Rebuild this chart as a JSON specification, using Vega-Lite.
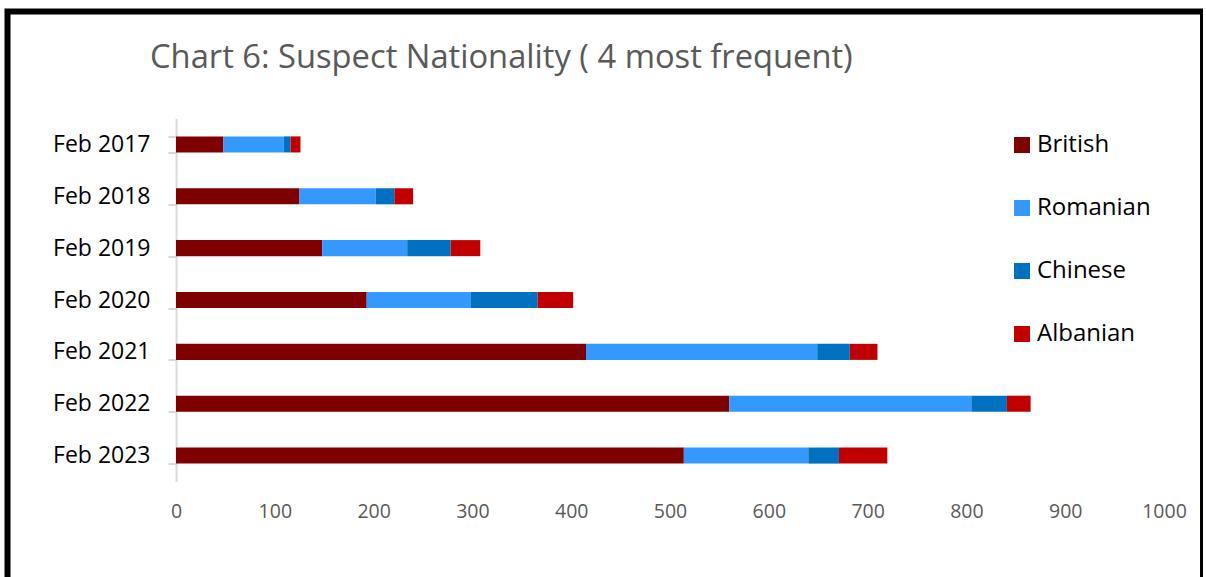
{
  "$schema": "https://vega.github.io/schema/vega-lite/v6.json",
  "autosize": "none",
  "padding": {"left": 7.5, "top": 11.5, "right": 0, "bottom": 0},
  "width": 1195.5,
  "height": 575,
  "background": "#ffffff",
  "title": {
    "text": "Chart 6: Suspect Nationality ( 4 most frequent)",
    "anchor": "start",
    "frame": "group",
    "orient": "top",
    "offset": 0,
    "baseline": "alphabetic",
    "dx": 142.5,
    "dy": 100.5,
    "font": "Open Sans",
    "fontSize": 32.7,
    "fontWeight": "normal",
    "color": "#595959"
  },
  "data": {
    "values": [
      {"month": "Feb 2017", "nationality": "British", "rank": 1, "suspects": 48},
      {"month": "Feb 2017", "nationality": "Romanian", "rank": 2, "suspects": 61},
      {"month": "Feb 2017", "nationality": "Chinese", "rank": 3, "suspects": 7},
      {"month": "Feb 2017", "nationality": "Albanian", "rank": 4, "suspects": 10},
      {"month": "Feb 2018", "nationality": "British", "rank": 1, "suspects": 125},
      {"month": "Feb 2018", "nationality": "Romanian", "rank": 2, "suspects": 77},
      {"month": "Feb 2018", "nationality": "Chinese", "rank": 3, "suspects": 19},
      {"month": "Feb 2018", "nationality": "Albanian", "rank": 4, "suspects": 19},
      {"month": "Feb 2019", "nationality": "British", "rank": 1, "suspects": 148},
      {"month": "Feb 2019", "nationality": "Romanian", "rank": 2, "suspects": 86},
      {"month": "Feb 2019", "nationality": "Chinese", "rank": 3, "suspects": 44},
      {"month": "Feb 2019", "nationality": "Albanian", "rank": 4, "suspects": 30},
      {"month": "Feb 2020", "nationality": "British", "rank": 1, "suspects": 193},
      {"month": "Feb 2020", "nationality": "Romanian", "rank": 2, "suspects": 105},
      {"month": "Feb 2020", "nationality": "Chinese", "rank": 3, "suspects": 68},
      {"month": "Feb 2020", "nationality": "Albanian", "rank": 4, "suspects": 36},
      {"month": "Feb 2021", "nationality": "British", "rank": 1, "suspects": 415},
      {"month": "Feb 2021", "nationality": "Romanian", "rank": 2, "suspects": 234},
      {"month": "Feb 2021", "nationality": "Chinese", "rank": 3, "suspects": 33},
      {"month": "Feb 2021", "nationality": "Albanian", "rank": 4, "suspects": 28},
      {"month": "Feb 2022", "nationality": "British", "rank": 1, "suspects": 560},
      {"month": "Feb 2022", "nationality": "Romanian", "rank": 2, "suspects": 245},
      {"month": "Feb 2022", "nationality": "Chinese", "rank": 3, "suspects": 36},
      {"month": "Feb 2022", "nationality": "Albanian", "rank": 4, "suspects": 24},
      {"month": "Feb 2023", "nationality": "British", "rank": 1, "suspects": 514},
      {"month": "Feb 2023", "nationality": "Romanian", "rank": 2, "suspects": 126},
      {"month": "Feb 2023", "nationality": "Chinese", "rank": 3, "suspects": 31},
      {"month": "Feb 2023", "nationality": "Albanian", "rank": 4, "suspects": 49}
    ]
  },
  "mark": {"type": "bar"},
  "encoding": {
    "y": {
      "field": "month",
      "type": "nominal",
      "sort": "ascending",
      "title": null,
      "scale": {"range": [107, 470], "paddingInner": 0.69, "paddingOuter": 0.345},
      "axis": {
        "orient": "left",
        "offset": -168.5,
        "domainColor": "#d9d9d9",
        "domainWidth": 2,
        "tickColor": "#d9d9d9",
        "tickWidth": 2,
        "tickSize": 8,
        "tickBand": "extent",
        "labelPadding": 18,
        "labelFont": "Open Sans",
        "labelFontSize": 23,
        "labelColor": "#000000",
        "grid": false
      }
    },
    "x": {
      "field": "suspects",
      "type": "quantitative",
      "stack": "zero",
      "title": null,
      "scale": {"domain": [0, 1000], "range": [168.5, 1156.5], "nice": false},
      "axis": {
        "orient": "bottom",
        "offset": -105,
        "values": [0, 100, 200, 300, 400, 500, 600, 700, 800, 900, 1000],
        "format": "d",
        "domain": false,
        "ticks": false,
        "grid": false,
        "labelPadding": 21,
        "labelFont": "Open Sans",
        "labelFontSize": 19.5,
        "labelColor": "#595959",
        "labelFlush": false,
        "labelOverlap": false
      }
    },
    "order": {"field": "rank", "type": "quantitative", "sort": "ascending"},
    "color": {
      "field": "nationality",
      "type": "nominal",
      "sort": ["British", "Romanian", "Chinese", "Albanian"],
      "scale": {
        "domain": ["British", "Romanian", "Chinese", "Albanian"],
        "range": ["#7f0000", "#3399ff", "#0070c0", "#c00000"]
      },
      "legend": {
        "title": null,
        "orient": "none",
        "legendX": 1002.5,
        "legendY": 121.5,
        "padding": 0,
        "symbolType": "square",
        "symbolSize": 256,
        "symbolStrokeWidth": 0,
        "symbolOpacity": 1,
        "labelFont": "Open Sans",
        "labelFontSize": 24,
        "labelColor": "#000000",
        "labelOffset": 3,
        "rowPadding": 39
      }
    }
  },
  "config": {
    "view": {"stroke": "#000000", "strokeWidth": 6},
    "bar": {"stroke": null}
  }
}
